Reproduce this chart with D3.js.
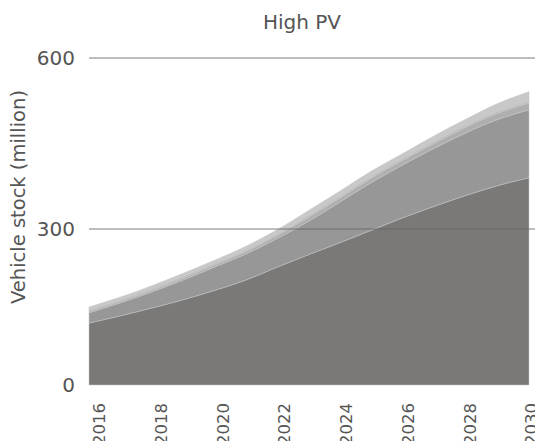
<!DOCTYPE html>
<html>
<head>
<meta charset="utf-8">
<script src="https://cdn.jsdelivr.net/npm/d3@7"></script>
<style>
  html, body { margin: 0; padding: 0; background: #fff; }
  svg { display: block; }
  text { font-family: "DejaVu Sans", sans-serif; fill: #555; }
</style>
</head>
<body>
<svg id="chart" width="535" height="441"></svg>
<script>
// ---- data ----
const years = [2016, 2017, 2018, 2019, 2020, 2021, 2022, 2023, 2024, 2025, 2026, 2027, 2028, 2029, 2030];
const seriesNames = ["s1", "s2", "s3", "s4", "s5"];
const s1 = [119, 133, 148, 164, 182, 202, 227, 251, 274, 298, 320, 340, 359, 376, 390];
const s2 = [20, 25, 31, 38, 45, 50, 55, 63, 74, 84, 93, 102, 110, 116, 119];
const s3 = [3, 3, 3, 4, 4, 5, 6, 7, 7, 8, 8, 9, 10, 11, 12];
const s4 = [3, 3, 3, 3, 3, 3, 3, 3, 3, 3, 3, 3, 3, 3, 3];
const s5 = [5, 5, 6, 6, 6, 7, 8, 9, 9, 9, 9, 10, 11, 14, 17];
const yTicks = [0, 300, 600];
const xTicks = [2016, 2018, 2020, 2022, 2024, 2026, 2028, 2030];
const colors = ["#7b7977", "#979797", "#afafaf", "#bcbcbc", "#c8c8c8"];

const table = years.map((yr, i) => ({ year: yr, s1: s1[i], s2: s2[i], s3: s3[i], s4: s4[i], s5: s5[i] }));

const svg = d3.select("#chart");

const x = d3.scaleLinear().domain([2016, 2030]).range([89, 529]);
const xLab = d3.scaleLinear().domain([2016, 2030]).range([99, 531]);
const y = d3.scaleLinear().domain([0, 300, 600]).range([385, 229, 58]);

// title
svg.append("text").attr("x", 302).attr("y", 29).attr("text-anchor", "middle")
  .style("font-size", "20px").text("High PV");

// y axis title
svg.append("text").attr("transform", "translate(25,197) rotate(-90)")
  .attr("text-anchor", "middle").style("font-size", "19.5px").text("Vehicle stock (million)");

// stacked areas
const stack = d3.stack().keys(seriesNames);
const layers = stack(table);
const area = d3.area()
  .x(d => x(d.data.year))
  .y0(d => y(d[0]))
  .y1(d => y(d[1]))
  .curve(d3.curveMonotoneX);

svg.append("g").selectAll("path").data(layers).join("path")
  .attr("d", area)
  .attr("fill", (d, i) => colors[i])
  .attr("stroke", "#c4c4c4")
  .attr("stroke-width", 0.5);

// gridlines (on top)
const yAxis = d3.axisLeft(y).tickValues(yTicks).tickSize(0).tickPadding(14);
const gy = svg.append("g").attr("transform", "translate(89,0)").call(yAxis);
gy.select(".domain").remove();
gy.selectAll(".tick text").style("font-size", "20px").attr("fill", "#555");
svg.append("g").selectAll("line").data(yTicks.filter(t => t > 0)).join("line")
  .attr("x1", 89).attr("x2", 535)
  .attr("y1", d => y(d)).attr("y2", d => y(d))
  .attr("stroke", "#666").attr("stroke-width", 1).attr("opacity", 0.85);

// x axis labels
const xAxis = d3.axisBottom(xLab).tickValues(xTicks).tickFormat(d3.format("d")).tickSize(0).tickPadding(0);
const gx = svg.append("g").attr("transform", "translate(0,403)").call(xAxis);
gx.select(".domain").remove();
gx.selectAll(".tick text")
  .style("font-size", "16.5px")
  .attr("fill", "#555")
  .attr("transform", "rotate(-90)")
  .attr("text-anchor", "end")
  .attr("x", 0)
  .attr("y", 0)
  .attr("dy", "0.35em");
</script>
</body>
</html>
